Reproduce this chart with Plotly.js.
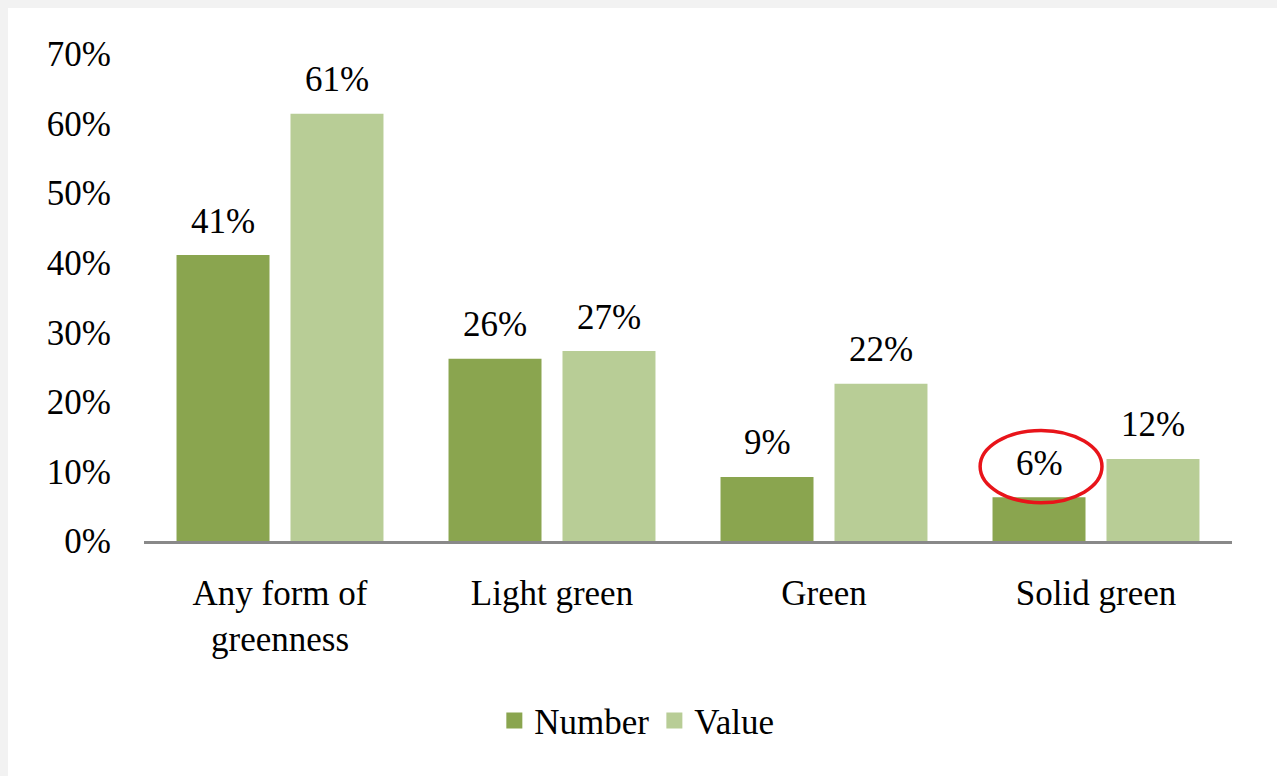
<!DOCTYPE html>
<html>
<head>
<meta charset="utf-8">
<script src="https://cdn.plot.ly/plotly-3.0.1.min.js"></script>
<style>
  html, body { margin: 0; padding: 0; background: #f2f2f2; width: 1277px; height: 776px; overflow: hidden; }
  #chart { position: absolute; left: 8px; top: 8px; width: 1269px; height: 768px; background: #ffffff; }
</style>
</head>
<body>
<div id="chart"></div>
<script>
const categories = ['Any form of<br>greenness', 'Light green', 'Green', 'Solid green'];
const numberValues = [0.411, 0.262, 0.092, 0.063];
const valueValues = [0.614, 0.273, 0.226, 0.118];
const numberLabels = ['41%', '26%', '9%', '6%'];
const valueLabels = ['61%', '27%', '22%', '12%'];
const seriesNames = ['Number', 'Value'];
const yTickVals = [0, 0.1, 0.2, 0.3, 0.4, 0.5, 0.6, 0.7];
const yTickText = ['0%', '10%', '20%', '30%', '40%', '50%', '60%', '70%'];

const FONT = 'Liberation Serif, Times New Roman, serif';
const FS = 35;
const darkGreen = '#8aa54f';
const lightGreen = '#b8cd96';

const traces = [
  { type: 'bar', name: seriesNames[0], x: categories, y: numberValues, marker: { color: darkGreen }, hoverinfo: 'none', showlegend: false },
  { type: 'bar', name: seriesNames[1], x: categories, y: valueValues, marker: { color: lightGreen }, hoverinfo: 'none', showlegend: false },
  { type: 'scatter', mode: 'markers', name: seriesNames[0], x: [null], y: [null],
    marker: { symbol: 'square', size: 16, color: darkGreen }, showlegend: true, hoverinfo: 'none' },
  { type: 'scatter', mode: 'markers', name: seriesNames[1], x: [null], y: [null],
    marker: { symbol: 'square', size: 16, color: lightGreen }, showlegend: true, hoverinfo: 'none' }
];

const annotations = [];
categories.forEach((c, i) => {
  annotations.push({ x: c, y: numberValues[i], xref: 'x', yref: 'y', text: numberLabels[i], showarrow: false,
    xshift: -57, yshift: 34, yanchor: 'middle', font: { family: FONT, size: FS, color: '#000' } });
  annotations.push({ x: c, y: valueValues[i], xref: 'x', yref: 'y', text: valueLabels[i], showarrow: false,
    xshift: 57, yshift: 34, yanchor: 'middle', font: { family: FONT, size: FS, color: '#000' } });
});

const layout = {
  width: 1269, height: 768,
  paper_bgcolor: '#ffffff', plot_bgcolor: '#ffffff',
  margin: { l: 136, r: 45, t: 46, b: 235 },
  barmode: 'group', bargap: 0.162, bargroupgap: 0.184,
  font: { family: FONT, size: FS, color: '#000' },
  xaxis: {
    type: 'category', showline: true, linecolor: '#898989', linewidth: 3, showgrid: false, zeroline: false,
    ticks: '', ticklabelstandoff: 19, tickfont: { family: FONT, size: FS, color: '#000' }
  },
  yaxis: {
    range: [0, 0.7], tickvals: yTickVals, ticktext: yTickText, showgrid: false, zeroline: false, showline: false,
    ticks: '', ticklabelstandoff: 32, tickfont: { family: FONT, size: FS, color: '#000' }
  },
  showlegend: true,
  legend: { orientation: 'h', x: 0.322, xanchor: 'left', y: -0.369, yanchor: 'middle',
    font: { family: FONT, size: FS, color: '#000' }, itemwidth: 30, traceorder: 'normal' },
  annotations: annotations,
  shapes: [
    { type: 'circle', xref: 'x', yref: 'y', x0: 2.574, x1: 3.022, y0: 0.055, y1: 0.159,
      line: { color: '#e8141a', width: 3.5 }, fillcolor: 'rgba(0,0,0,0)' }
  ]
};

Plotly.newPlot('chart', traces, layout, { staticPlot: true, displayModeBar: false });
</script>
</body>
</html>
